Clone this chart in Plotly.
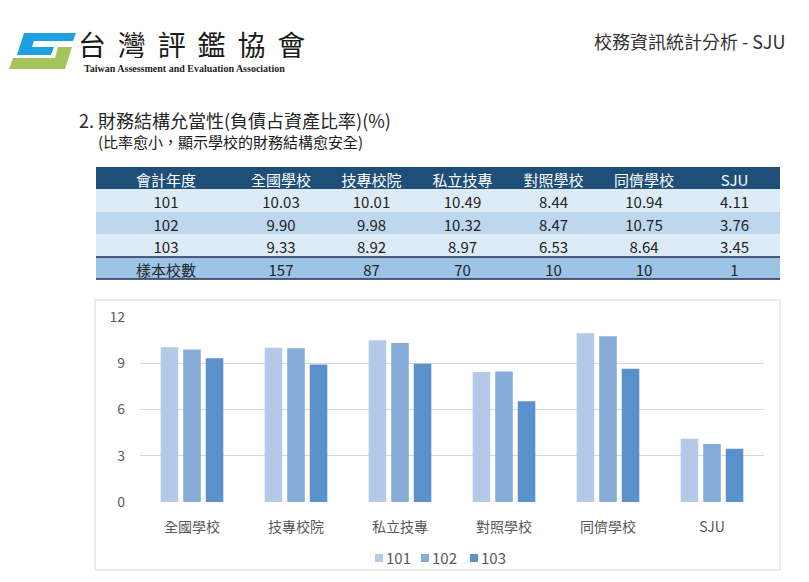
import plotly.graph_objects as go

# the page body adds an 8px margin, so the figure is drawn 8px in from the top-left
OFF = 8
W, H = 809 - OFF, 582 - OFF

# ---------------- data ----------------
categories = ["全國學校", "技專校院", "私立技專", "對照學校", "同儕學校", "SJU"]
years = ["101", "102", "103"]
v101 = [10.03, 10.01, 10.49, 8.44, 10.94, 4.11]
v102 = [9.90, 9.98, 10.32, 8.47, 10.75, 3.76]
v103 = [9.33, 8.92, 8.97, 6.53, 8.64, 3.45]
samples = [157, 87, 70, 10, 10, 1]
y_ticks = [0, 3, 6, 9, 12]

series = [v101, v102, v103]
bar_colors = ["#B4CAE6", "#87ACDA", "#5A91CB"]

CJK = "Noto Sans CJK TC, Noto Sans, sans-serif"


def px(x):
    return (x - OFF) / W


def py(y):
    return 1 - (y - OFF) / H


def path(points):
    return "M " + " L ".join(f"{px(x):.5f},{py(y):.5f}" for x, y in points) + " Z"


fig = go.Figure()

# ---------------- table ----------------
header_vals = ["會計年度"] + categories
first_col = years + ["樣本校數"]
table_cols = [first_col]
for i in range(len(categories)):
    table_cols.append([f"{v101[i]:.2f}", f"{v102[i]:.2f}", f"{v103[i]:.2f}", str(samples[i])])

row_fill = ["#DDEBF7", "#BDD7EE", "#DDEBF7", "#9DC3E6"]
fig.add_trace(go.Table(
    domain=dict(x=[px(96), px(780)], y=[py(281), py(167)]),
    columnwidth=[140, 90, 91, 91, 91, 90, 91],
    header=dict(values=header_vals, fill_color="#1F4E79",
                font=dict(family=CJK, size=15, color="white"),
                align="center", height=22, line=dict(width=0, color="#1F4E79")),
    cells=dict(values=table_cols,
               fill_color=[row_fill] * len(table_cols),
               font=dict(family=CJK, size=15, color="#222222"),
               align="center", height=22.5,
               line=dict(width=0, color="#DDEBF7")),
))

# ---------------- bars ----------------
for name, vals, col in zip(years, series, bar_colors):
    fig.add_trace(go.Bar(x=categories, y=vals, name=name, marker_color=col,
                         marker_line_width=0, hoverinfo="x+y+name", showlegend=False))

fig.update_layout(
    width=W, height=H,
    margin=dict(l=0, r=0, t=0, b=0, autoexpand=False),
    paper_bgcolor="white", plot_bgcolor="white",
    barmode="group", bargap=0.35, bargroupgap=0.22,
    font=dict(family=CJK, color="#595959"),
    xaxis=dict(domain=[px(140), px(764)], showgrid=False, showline=False,
               zeroline=False, ticks="", tickfont=dict(size=14, color="#595959"),
               ticklabelstandoff=15, fixedrange=True),
    yaxis=dict(domain=[py(502), py(317)], range=[0, 12], tickvals=y_ticks,
               showgrid=True, gridcolor="#D9D9D9", gridwidth=1, zeroline=False,
               showline=False, ticks="", tickfont=dict(size=14, color="#595959"),
               ticklabelstandoff=14, fixedrange=True),
    showlegend=False,
)

shapes = []
# chart border
shapes.append(dict(type="rect", xref="paper", yref="paper",
                   x0=px(95), x1=px(780), y0=py(570), y1=py(300),
                   line=dict(color="#D9D9D9", width=1), fillcolor="rgba(0,0,0,0)", layer="below"))
# table dark rules around the sample row
for yy in (257, 279):
    shapes.append(dict(type="line", xref="paper", yref="paper",
                       x0=px(96), x1=px(780), y0=py(yy), y1=py(yy),
                       line=dict(color="#1F2F4F", width=1.5)))
# logo
shapes.append(dict(type="path", xref="paper", yref="paper",
                   path=path([(24, 33), (76, 33), (73, 41), (34, 41), (32, 47), (54, 47), (51, 55), (17, 55)]),
                   fillcolor="#1EA0E0", line=dict(width=0)))
shapes.append(dict(type="path", xref="paper", yref="paper",
                   path=path([(58, 47), (72, 47), (65, 69), (9, 69), (13, 58), (55, 58)]),
                   fillcolor="#A5C55A", line=dict(width=0)))

annotations = []
# legend: small colour keys with the year labels, centred under the chart
legend_x = [375, 421, 470]
for lx, name, col in zip(legend_x, years, bar_colors):
    shapes.append(dict(type="rect", xref="paper", yref="paper",
                       x0=px(lx), x1=px(lx + 8), y0=py(562), y1=py(554),
                       fillcolor=col, line=dict(width=0)))
    annotations.append(dict(text=name, x=px(lx + 9), y=py(557), xanchor="left", yanchor="middle",
                            font=dict(family=CJK, size=15, color="#595959")))
fig.update_layout(shapes=shapes)

gap = " \u2009"
annotations += [
    dict(text=gap.join("台灣評鑑協會"), x=px(76), y=py(44), xanchor="left", yanchor="middle",
         height=28, valign="middle",
         font=dict(family=CJK, size=28, color="#1a1a1a")),
    dict(text="<b>Taiwan Assessment and Evaluation Association</b>", x=px(82), y=py(68.5),
         xanchor="left", yanchor="middle",
         font=dict(family="Liberation Serif, DejaVu Serif, serif", size=10, color="#222222")),
    dict(text="校務資訊統計分析 - SJU", x=px(787), y=py(41), xanchor="right", yanchor="middle",
         font=dict(family=CJK, size=18, color="#333333")),
    dict(text="2. 財務結構允當性(負債占資產比率)(%)", x=px(77), y=py(120), xanchor="left",
         yanchor="middle", font=dict(family=CJK, size=18, color="#262626")),
    dict(text="(比率愈小，顯示學校的財務結構愈安全)", x=px(96), y=py(141), xanchor="left",
         yanchor="middle", font=dict(family=CJK, size=15, color="#1a1a1a")),
]
for a in annotations:
    a.update(xref="paper", yref="paper", showarrow=False)
fig.update_layout(annotations=annotations)

fig.write_html("out.html")
